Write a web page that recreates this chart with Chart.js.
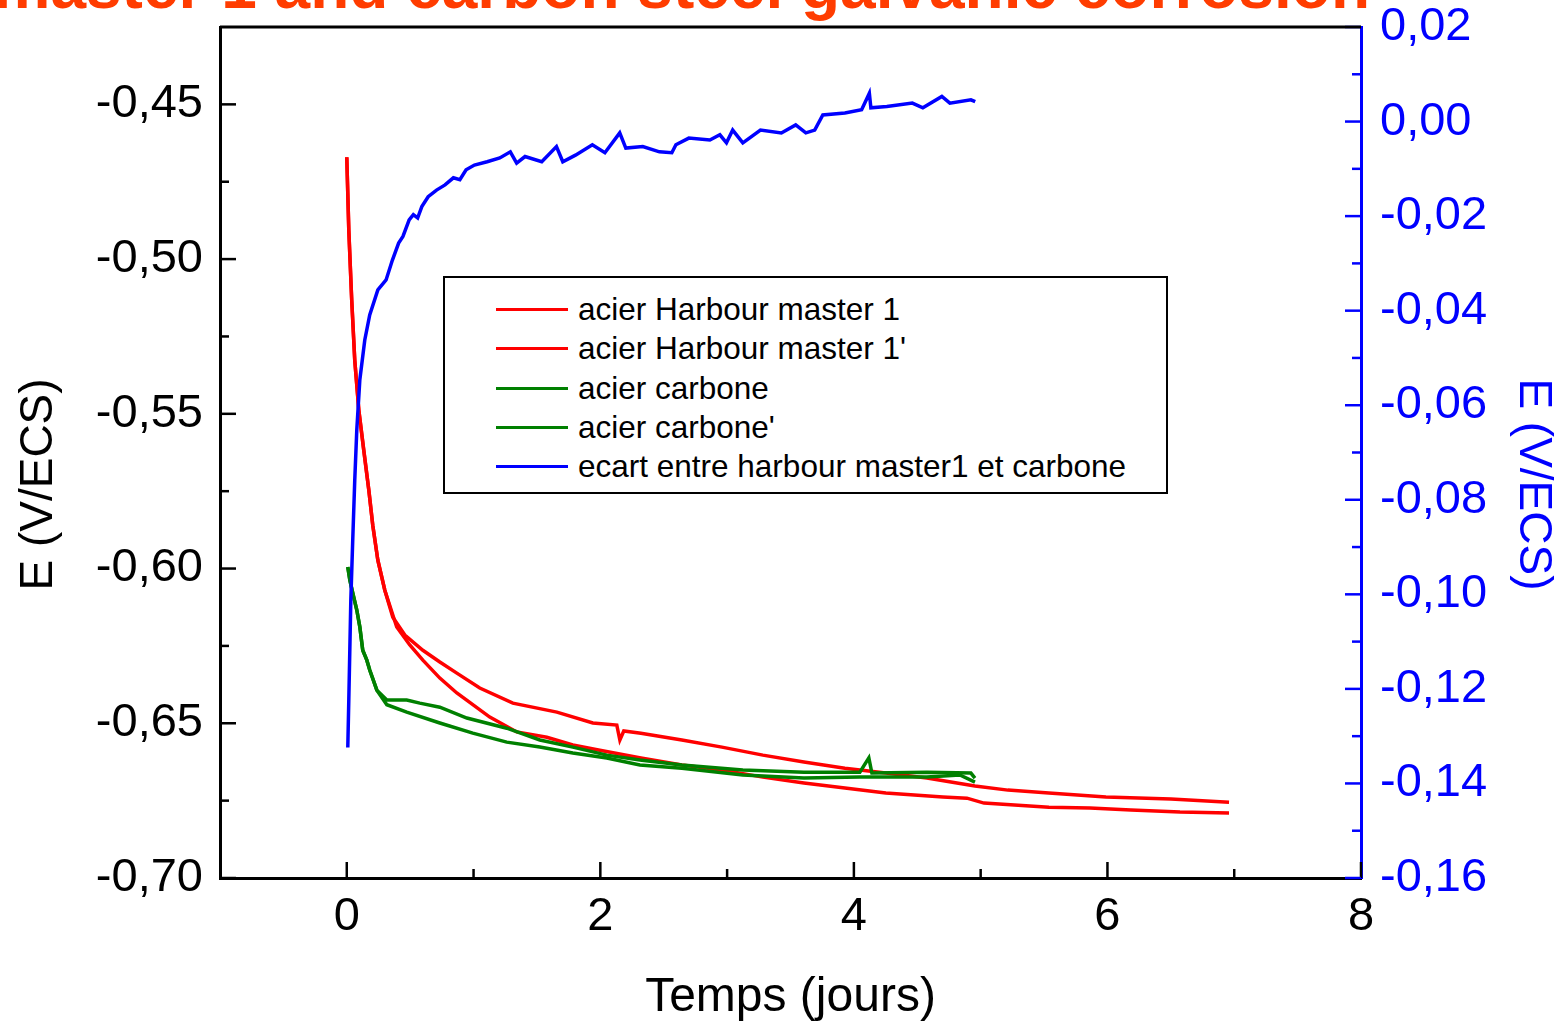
<!DOCTYPE html>
<html>
<head>
<meta charset="utf-8">
<script src="https://cdn.jsdelivr.net/npm/chart.js@4.4.1/dist/chart.umd.min.js"></script>
<style>
  body { margin: 0; overflow: hidden; background: #fff; font-family: "Liberation Sans", Arial, sans-serif; }
  #wrap { position: relative; width: 1561px; height: 1024px; overflow: hidden; }
  #title { position: absolute; right: 191px; top: -46px; font-size: 64px; line-height: 64px; font-weight: bold; color: #ff3c00; white-space: nowrap; }
  #legend { position: absolute; left: 443px; top: 276px; width: 721px; height: 214px; border: 2px solid #000; background: #fff; }
  #legend .row { position: absolute; left: 0; height: 40px; width: 100%; }
  #legend .sw { position: absolute; left: 51px; top: 19px; width: 72px; height: 3px; }
  #legend .txt { position: absolute; left: 133px; top: 0; line-height: 40px; font-size: 31.5px; color: #000; white-space: nowrap; }
</style>
</head>
<body>
<div id="wrap">
  <canvas id="chart" width="1561" height="1024"></canvas>
  <div id="title">Harbour master 1 and carbon steel galvanic corrosion</div>
  <div id="legend"></div>
</div>
<script>
// time in days, potential in V/ECS
const hm1Time = [0.000,0.016,0.039,0.063,0.095,0.134,0.174,0.205,0.245,0.300,0.363,0.458,0.600,0.734,0.868,1.049,1.310,1.657,1.941,2.130,2.154,2.185,2.320,2.643,2.959,3.282,3.606,3.929,4.252,4.576,4.955,5.215,5.538,5.988,6.501,6.959];
const hm1E = [-0.4671,-0.4907,-0.5133,-0.5327,-0.5488,-0.5618,-0.5747,-0.5860,-0.5973,-0.6070,-0.6157,-0.6215,-0.6264,-0.6302,-0.6338,-0.6386,-0.6435,-0.6464,-0.6499,-0.6506,-0.6554,-0.6525,-0.6532,-0.6554,-0.6577,-0.6603,-0.6625,-0.6645,-0.6661,-0.6677,-0.6703,-0.6716,-0.6725,-0.6738,-0.6745,-0.6755];

const hm1bTime = [0.000,0.016,0.039,0.063,0.095,0.134,0.174,0.205,0.245,0.300,0.394,0.497,0.600,0.734,0.868,1.128,1.341,1.578,1.783,1.996,2.320,2.643,2.959,3.282,3.606,3.929,4.252,4.702,4.892,5.026,5.538,5.862,6.185,6.572,6.959];
const hm1bE = [-0.4671,-0.4907,-0.5133,-0.5327,-0.5488,-0.5618,-0.5747,-0.5860,-0.5973,-0.6070,-0.6189,-0.6247,-0.6296,-0.6354,-0.6402,-0.6480,-0.6528,-0.6545,-0.6570,-0.6587,-0.6612,-0.6635,-0.6651,-0.6674,-0.6693,-0.6709,-0.6725,-0.6738,-0.6742,-0.6758,-0.6771,-0.6774,-0.6780,-0.6787,-0.6790];

const carbTime = [0.008,0.024,0.047,0.079,0.103,0.126,0.158,0.181,0.237,0.316,0.473,0.576,0.734,0.947,1.262,1.523,1.783,2.051,2.312,2.643,3.124,3.606,4.047,4.118,4.142,4.576,4.923,4.955];
const carbE = [-0.5995,-0.6037,-0.6079,-0.6134,-0.6189,-0.6264,-0.6296,-0.6328,-0.6393,-0.6425,-0.6425,-0.6435,-0.6448,-0.6483,-0.6516,-0.6554,-0.6577,-0.6603,-0.6619,-0.6635,-0.6651,-0.6658,-0.6658,-0.6612,-0.6661,-0.6658,-0.6661,-0.6677];

const carbbTime = [0.008,0.024,0.047,0.079,0.103,0.126,0.158,0.181,0.237,0.316,0.473,0.734,0.994,1.262,1.523,1.783,2.051,2.312,2.643,3.124,3.606,4.047,4.576,4.836,4.955];
const carbbE = [-0.5995,-0.6037,-0.6079,-0.6134,-0.6189,-0.6264,-0.6296,-0.6328,-0.6393,-0.6440,-0.6464,-0.6499,-0.6532,-0.6561,-0.6577,-0.6596,-0.6612,-0.6635,-0.6645,-0.6667,-0.6677,-0.6674,-0.6674,-0.6667,-0.6690];

// difference, right axis
const ecartTime = [0.008,0.016,0.024,0.032,0.047,0.063,0.079,0.103,0.142,0.181,0.245,0.310,0.360,0.409,0.443,0.492,0.525,0.559,0.592,0.642,0.708,0.775,0.841,0.892,0.941,1.007,1.107,1.207,1.290,1.340,1.406,1.538,1.654,1.704,1.804,1.937,2.036,2.153,2.201,2.335,2.466,2.564,2.596,2.698,2.864,2.943,2.995,3.044,3.124,3.263,3.428,3.541,3.621,3.691,3.755,3.929,4.061,4.122,4.134,4.260,4.461,4.544,4.694,4.757,4.923,4.957];
const ecartE = [-0.1324,-0.1223,-0.1117,-0.1011,-0.0885,-0.0758,-0.0652,-0.0546,-0.0462,-0.0409,-0.0356,-0.0335,-0.0293,-0.0257,-0.0243,-0.0208,-0.0197,-0.0204,-0.0180,-0.0159,-0.0145,-0.0134,-0.0119,-0.0123,-0.0102,-0.0092,-0.0085,-0.0077,-0.0064,-0.0088,-0.0074,-0.0085,-0.0053,-0.0085,-0.0071,-0.0049,-0.0066,-0.0024,-0.0056,-0.0053,-0.0064,-0.0066,-0.0049,-0.0035,-0.0039,-0.0028,-0.0045,-0.0018,-0.0045,-0.0018,-0.0024,-0.0007,-0.0024,-0.0018,0.0014,0.0018,0.0025,0.0060,0.0029,0.0032,0.0039,0.0029,0.0053,0.0039,0.0046,0.0042];

const xTicks = [0, 2, 4, 6, 8];
const xMinor = [1, 3, 5, 7];
const yTicks = [-0.70, -0.65, -0.60, -0.55, -0.50, -0.45];
const yMinor = [-0.675, -0.625, -0.575, -0.525, -0.475];
const y2Ticks = [-0.16, -0.14, -0.12, -0.10, -0.08, -0.06, -0.04, -0.02, 0.00, 0.02];
const y2Minor = [-0.15, -0.13, -0.11, -0.09, -0.07, -0.05, -0.03, -0.01, 0.01];

const FONT = '"Liberation Sans", Arial, sans-serif';

function pts(xs, ys) {
  return xs.map((x, i) => ({x: x, y: ys[i]}));
}
function comma(v) {
  if (Math.abs(v) < 1e-9) v = 0;
  return v.toFixed(2).replace('.', ',');
}
// fixed box sizes so the plot area lands where the original one is
function fixBox(prop, size) {
  return s => {
    s[prop] = size;
    s.paddingTop = 0; s.paddingBottom = 0; s.paddingLeft = 0; s.paddingRight = 0;
  };
}

// ticks in this chart point inwards, chart.js only draws them outwards
const innerTicks = {
  id: 'innerTicks',
  afterDraw(chart) {
    const ctx = chart.ctx;
    const a = chart.chartArea;
    ctx.save();
    ctx.lineWidth = 2.5;
    function mark(scale, vals, len, color) {
      ctx.strokeStyle = color;
      vals.forEach(v => {
        const p = scale.getPixelForValue(v);
        ctx.beginPath();
        if (scale.id == 'x') { ctx.moveTo(p, a.bottom); ctx.lineTo(p, a.bottom - len); }
        else if (scale.id == 'y') { ctx.moveTo(a.left, p); ctx.lineTo(a.left + len, p); }
        else { ctx.moveTo(a.right, p); ctx.lineTo(a.right - len, p); }
        ctx.stroke();
      });
    }
    mark(chart.scales.x, xTicks, 16, '#000');
    mark(chart.scales.x, xMinor, 9, '#000');
    mark(chart.scales.y, yTicks, 16, '#000');
    mark(chart.scales.y, yMinor, 9, '#000');
    mark(chart.scales.y2, y2Ticks, 16, '#0000ff');
    mark(chart.scales.y2, y2Minor, 9, '#0000ff');
    // top frame line
    ctx.strokeStyle = '#000';
    ctx.lineWidth = 3;
    ctx.beginPath();
    ctx.moveTo(a.left, a.top);
    ctx.lineTo(a.right, a.top);
    ctx.stroke();
    ctx.restore();
  }
};

const chart = new Chart(document.getElementById('chart').getContext('2d'), {
  type: 'line',
  data: {
    datasets: [
      { label: 'acier Harbour master 1', data: pts(hm1Time, hm1E), borderColor: '#ff0000', yAxisID: 'y', order: 2 },
      { label: "acier Harbour master 1'", data: pts(hm1bTime, hm1bE), borderColor: '#ff0000', yAxisID: 'y', order: 2 },
      { label: 'acier carbone', data: pts(carbTime, carbE), borderColor: '#008000', yAxisID: 'y', order: 1 },
      { label: "acier carbone'", data: pts(carbbTime, carbbE), borderColor: '#008000', yAxisID: 'y', order: 1 },
      { label: 'ecart entre harbour master1 et carbone', data: pts(ecartTime, ecartE), borderColor: '#0000ff', yAxisID: 'y2', order: 0 }
    ]
  },
  options: {
    responsive: false,
    animation: false,
    devicePixelRatio: 1,
    elements: {
      point: { radius: 0 },
      line: { borderWidth: 3.5, tension: 0, fill: false }
    },
    layout: { padding: { top: 27, left: 0, right: 0, bottom: 0 } },
    plugins: { legend: { display: false }, tooltip: { enabled: false } },
    scales: {
      x: {
        type: 'linear', position: 'bottom', min: -1, max: 8,
        afterBuildTicks: s => { s.ticks = xTicks.map(v => ({value: v})); },
        afterFit: fixBox('height', 146),
        grid: { drawOnChartArea: false, drawTicks: false },
        border: { display: true, color: '#000', width: 3 },
        ticks: { color: '#000', padding: 11, maxRotation: 0, font: { family: FONT, size: 47 }, callback: v => String(v) },
        title: { display: true, text: 'Temps (jours)', color: '#000', padding: { top: 0, bottom: -3 }, font: { family: FONT, size: 48 } }
      },
      y: {
        type: 'linear', position: 'left', min: -0.70, max: -0.425,
        afterBuildTicks: s => { s.ticks = yTicks.map(v => ({value: v})); },
        afterFit: fixBox('width', 220),
        grid: { drawOnChartArea: false, drawTicks: false },
        border: { display: true, color: '#000', width: 3 },
        ticks: { color: '#000', padding: 17, font: { family: FONT, size: 47 }, callback: v => comma(v) },
        title: { display: true, text: 'E (V/ECS)     ', color: '#000', padding: { top: 12, bottom: 0 }, font: { family: FONT, size: 46 } }
      },
      y2: {
        type: 'linear', position: 'right', min: -0.16, max: 0.02,
        afterBuildTicks: s => { s.ticks = y2Ticks.map(v => ({value: v})); },
        afterFit: fixBox('width', 200),
        grid: { drawOnChartArea: false, drawTicks: false },
        border: { display: true, color: '#0000ff', width: 3 },
        ticks: { color: '#0000ff', padding: 19, font: { family: FONT, size: 47 }, callback: v => comma(v) },
        title: { display: true, text: '     E (V/ECS)', color: '#0000ff', padding: { top: 1, bottom: 0 }, font: { family: FONT, size: 46 } }
      }
    }
  },
  plugins: [innerTicks]
});

// legend box sits inside the plot, built from the datasets
const leg = document.getElementById('legend');
chart.data.datasets.forEach((ds, i) => {
  const row = document.createElement('div');
  row.className = 'row';
  row.style.top = (11 + i * 39.3) + 'px';
  const sw = document.createElement('span');
  sw.className = 'sw';
  sw.style.background = ds.borderColor;
  const tx = document.createElement('span');
  tx.className = 'txt';
  tx.textContent = ds.label;
  row.appendChild(sw);
  row.appendChild(tx);
  leg.appendChild(row);
});
</script>
</body>
</html>
